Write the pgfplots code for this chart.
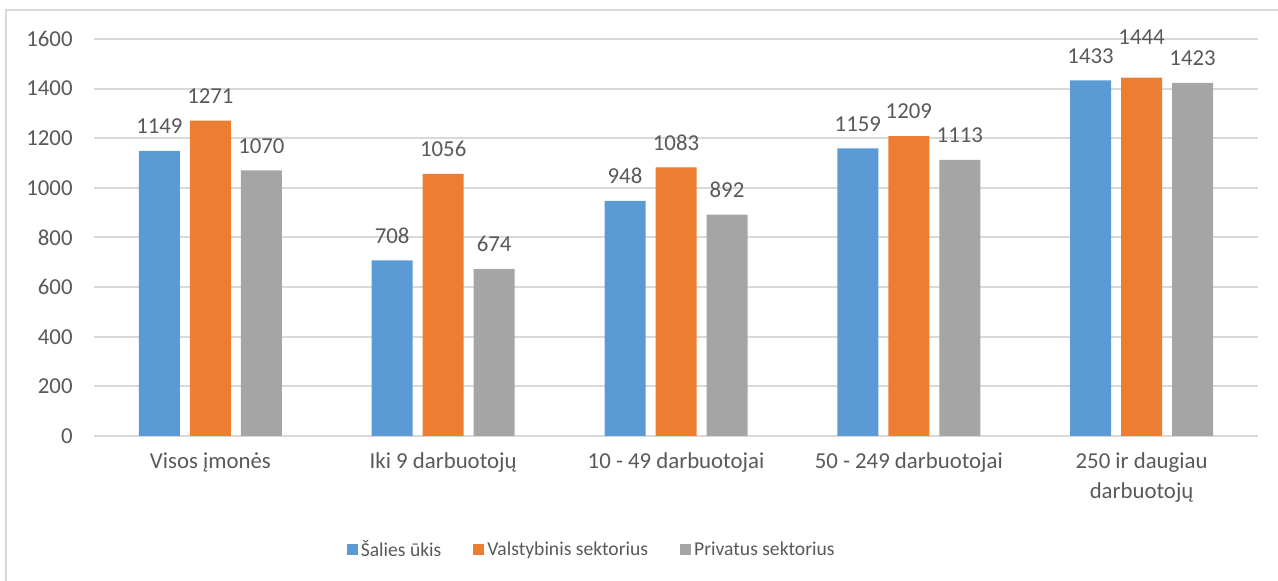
\documentclass[border=0pt]{standalone}
\usepackage{fontspec}
\setmainfont{Carlito}
\usepackage{pgfplots}
\usepackage{pgfplotstable}
\pgfplotsset{compat=1.18}
\definecolor{cblue}{HTML}{5B9BD5}
\definecolor{corange}{HTML}{ED7D31}
\definecolor{cgrey}{HTML}{A5A5A5}
\definecolor{gridc}{HTML}{D9D9D9}
\definecolor{txt}{HTML}{595959}
\newcommand\cf{\fontsize{11.4}{15}\selectfont}
\newcommand\lf{\fontsize{9.8}{12}\selectfont}

% x = category index, y = value, dy = label lift (pt)
\pgfplotstableread{
x y dy
0 1149 5
1 708 5
2 948 5
3 1159 5
4 1433 5
}\salies
\pgfplotstableread{
x y dy
0 1271 5
1 1056 5
2 1083 5
3 1209 5
4 1444 13
}\valst
\pgfplotstableread{
x y dy
0 1070 5
1 674 5
2 892 5
3 1113 5
4 1423 5
}\privat

\begin{document}
\begin{tikzpicture}
\useasboundingbox (0,0) rectangle (639pt,290.5pt);
\draw[gridc, line width=0.6pt] (3pt,0) -- (3pt,285.5pt) -- (639pt,285.5pt);
\begin{axis}[
  at={(47pt,72.5pt)}, anchor=south west,
  scale only axis, width=582pt, height=198.5pt,
  ybar=5pt, bar width=20.5pt,
  xmin=-0.5, xmax=4.5, ymin=0, ymax=1600,
  enlarge x limits=false,
  xtick=data,
  xticklabels={Visos įmonės, Iki 9 darbuotojų, 10 - 49 darbuotojai, 50 - 249 darbuotojai, {250 ir daugiau\\darbuotojų}},
  ytick={0,200,...,1600},
  /pgf/number format/assume math mode=true,
  /pgf/number format/1000 sep={},
  ymajorgrids, grid style={gridc, line width=1pt},
  axis line style={draw=none},
  major tick length=0pt,
  tick label style={font=\cf, text=txt},
  yticklabel style={inner sep=0pt, xshift=-10.5pt},
  xticklabel style={align=center, yshift=-5pt},
  nodes near coords,
  visualization depends on={\thisrow{dy}\as\dy},
  every node near coord/.append style={font=\cf, text=txt, yshift=\dy pt},
  legend columns=3,
  legend style={draw=none, font=\lf, text=txt, at={(0.428,-0.287)}, anchor=center,
    /tikz/every even column/.append style={column sep=14.5pt},
    inner sep=0pt, nodes={inner sep=1.5pt}},
  legend image code/.code={\fill[#1, draw=none] (0pt,-2.75pt) rectangle (5.5pt,2.75pt);},
]
\addplot[fill=cblue, draw=none] table[x=x, y=y] {\salies};
\addplot[fill=corange, draw=none] table[x=x, y=y] {\valst};
\addplot[fill=cgrey, draw=none] table[x=x, y=y] {\privat};
\legend{Šalies ūkis, Valstybinis sektorius, Privatus sektorius}
\end{axis}
\end{tikzpicture}
\end{document}
